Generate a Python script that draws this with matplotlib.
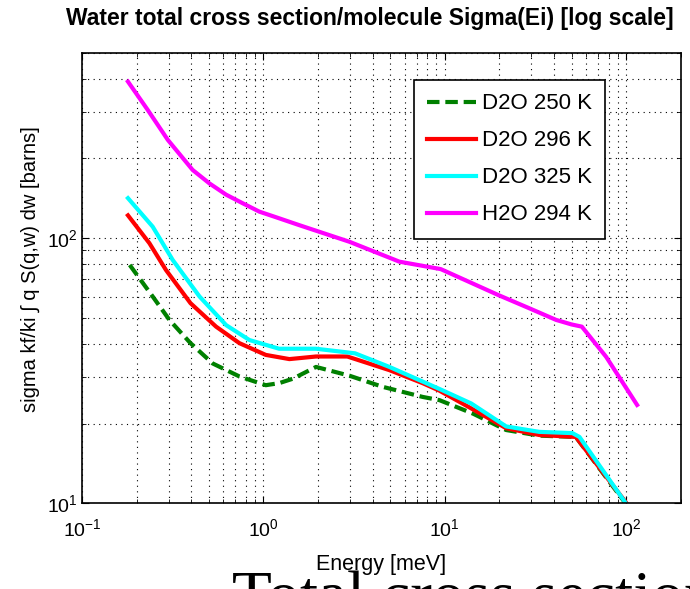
import numpy as np
import matplotlib.pyplot as plt

plt.rcParams['font.family'] = ['Liberation Sans', 'DejaVu Sans']
plt.rcParams['mathtext.fontset'] = 'custom'
plt.rcParams['mathtext.rm'] = 'Liberation Sans'

# values (energy in meV, sigma in barns)
e_d2o_250 = [0.183, 0.245, 0.303, 0.396, 0.525, 0.737, 1.03, 1.22, 1.45, 1.95, 2.98, 4.55, 7.55, 9.35, 14.3, 21.8, 33.2, 52.8, 98.2]
s_d2o_250 = [79.3, 60.3, 49.2, 40.2, 33.7, 30.1, 27.9, 28.4, 29.5, 32.7, 30.3, 27.5, 25.2, 24.5, 21.8, 18.9, 18.0, 17.8, 10.1]

e_d2o_296 = [0.179, 0.235, 0.29, 0.396, 0.548, 0.737, 1.03, 1.39, 1.95, 2.9, 4.95, 7.55, 9.35, 14.0, 21.8, 33.2, 52.8, 99.5]
s_d2o_296 = [122, 95.8, 75.9, 56.9, 46.4, 40.2, 36.3, 35.0, 35.8, 35.8, 31.8, 28.4, 26.6, 22.8, 19.2, 18.1, 17.8, 10.1]

e_d2o_325 = [0.179, 0.245, 0.316, 0.444, 0.623, 0.837, 1.22, 1.95, 3.2, 4.95, 9.35, 14.0, 21.8, 33.2, 50.6, 55.3, 98.7]
s_d2o_325 = [141.7, 110.6, 82.8, 60.3, 47.0, 41.3, 38.3, 38.3, 36.8, 32.7, 27.0, 23.8, 19.5, 18.6, 18.4, 17.8, 10.1]

e_h2o_294 = [0.179, 0.230, 0.297, 0.407, 0.504, 0.623, 0.769, 0.95, 1.175, 1.58, 2.98, 5.62, 9.5, 19.8, 29.5, 41.1, 50.0, 57.0, 77.6, 115]
s_h2o_294 = [390, 305, 235, 181, 161, 146, 135.5, 126, 120, 112, 97, 81.6, 76.5, 61, 54.3, 49.2, 47.3, 46.4, 35.7, 23.5]

fig = plt.figure(figsize=(6.9, 5.89), dpi=100)
ax = fig.add_axes([0.119, 0.1455, 0.8675, 0.7645])

ax.plot(e_d2o_250, s_d2o_250, '--', color='#008000', lw=3, dashes=(3, 1.4), label='D2O 250 K')
ax.plot(e_d2o_296, s_d2o_296, '-', color='#ff0000', lw=3, label='D2O 296 K')
ax.plot(e_d2o_325, s_d2o_325, '-', color='#00ffff', lw=3, label='D2O 325 K')
ax.plot(e_h2o_294, s_h2o_294, '-', color='#ff00ff', lw=3, label='H2O 294 K')

ax.set_xscale('log')
ax.set_yscale('log')
ax.set_xlim(0.1, 200)
ax.set_ylim(10, 500)

ax.grid(True, which='both', color='black', linestyle=(0, (1, 4)), linewidth=0.8)
ax.tick_params(which='both', direction='in', top=True, right=True, labelsize=14)
ax.tick_params(axis='x', which='major', pad=11)
ax.tick_params(which='major', length=5)
ax.tick_params(which='minor', length=3)
for sp in ax.spines.values():
    sp.set_linewidth(1.2)

ax.set_xlabel('Energy [meV]', fontsize=15.5, labelpad=10)
ax.set_ylabel('sigma kf/ki \u222b q S(q,w) dw [barns]', fontsize=14.5)
ax.yaxis.set_label_coords(-0.07, 0.52)
fig.text(370 / 690, 1 - 18 / 589, 'Water total cross section/molecule Sigma(Ei) [log scale]',
         fontsize=16.5, fontweight='bold', ha='center', va='center')

leg = ax.legend(loc='upper right', bbox_to_anchor=(0.874, 0.94), fontsize=16,
                fancybox=False, edgecolor='black', framealpha=1, borderaxespad=0,
                handlelength=2.2, labelspacing=0.72, borderpad=0.6, handletextpad=0.25)
leg.get_frame().set_linewidth(1.2)

fig.text(232 / 690, 1 - 571 / 589, 'Total cross section', family='Liberation Serif',
         fontsize=47, ha='left', va='top')

fig.savefig('out.png', dpi=100)
